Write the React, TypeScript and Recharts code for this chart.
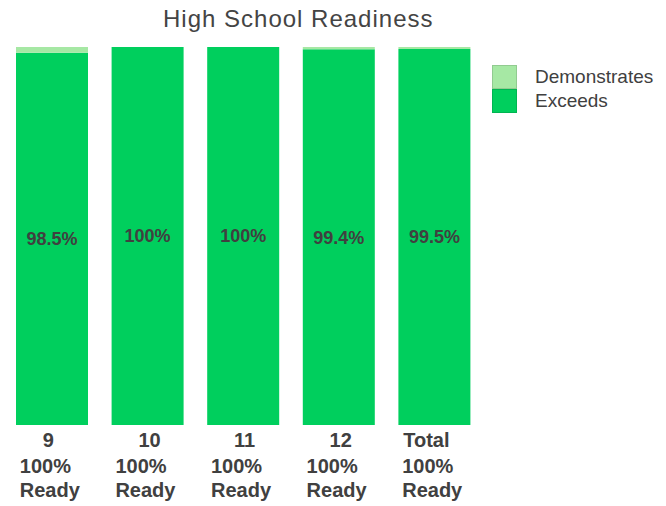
import React from 'react'
import { BarChart, Bar, XAxis, YAxis, LabelList } from 'recharts'

const grades = ['9', '10', '11', '12', 'Total']
const exceeds = [98.5, 100, 100, 99.4, 99.5]
const demonstrates = [1.5, 0, 0, 0.6, 0.5]
const readyPct = [100, 100, 100, 100, 100]
const legendItems = ['Demonstrates', 'Exceeds']

const EXCEEDS_COLOR = '#00CF5D'
const DEMO_COLOR = '#A6E8A4'
const TEXT_COLOR = '#404040'
const FONT = 'Liberation Sans, Arial, sans-serif'

const data = grades.map((g, i) => ({
    grade: g,
    exceeds: exceeds[i],
    demonstrates: demonstrates[i],
    ready: readyPct[i],
}))

const GradeTick = ({ x, y, payload }: any) => {
    const i = payload.index
    const label = grades[i]
    const left = x - 32
    // grade numbers sit indented, like the original's leading spaces
    const indent = /^\d+$/.test(label) ? 23 : 1
    return (
        <g fontFamily={FONT} fontSize={20} fontWeight="bold" fill={TEXT_COLOR}>
            <text x={left + indent} y={y + 14} textAnchor="start">{label}</text>
            <text x={left} y={y + 40} textAnchor="start">{`${readyPct[i]}%`}</text>
            <text x={left} y={y + 64} textAnchor="start">Ready</text>
        </g>
    )
}

export default function App() {
    const colors = [DEMO_COLOR, EXCEEDS_COLOR]
    return (
        <div style={{ position: 'absolute', left: 0, top: 0, width: 666, height: 506, background: '#fff' }}>
            <div
                style={{
                    position: 'absolute',
                    left: 163,
                    top: 5,
                    fontFamily: FONT,
                    fontSize: 24,
                    letterSpacing: 1,
                    color: '#444',
                    whiteSpace: 'nowrap',
                }}
            >
                High School Readiness
            </div>
            {/* legend drawn outside the chart so it doesn't shrink the plot */}
            <div style={{ position: 'absolute', left: 492, top: 65, fontFamily: FONT }}>
                {legendItems.map((name, i) => (
                    <div key={name} style={{ display: 'flex', alignItems: 'center', height: 24 }}>
                        <div style={{ width: 25, height: 24, background: colors[i], boxShadow: 'inset 0 0 0 1px rgba(0,0,0,0.12)' }} />
                        <span style={{ marginLeft: 18, fontSize: 19, color: TEXT_COLOR }}>{name}</span>
                    </div>
                ))}
            </div>
            <BarChart
                width={666}
                height={506}
                data={data}
                margin={{ top: 47, right: 184, left: 4, bottom: 0 }}
                barSize={72}
            >
                <XAxis
                    dataKey="grade"
                    axisLine={false}
                    tickLine={false}
                    height={81}
                    interval={0}
                    tick={<GradeTick />}
                />
                <YAxis hide domain={[0, 100]} />
                <Bar dataKey="exceeds" stackId="a" fill={EXCEEDS_COLOR} isAnimationActive={false}>
                    <LabelList
                        dataKey="exceeds"
                        position="center"
                        formatter={(v: any) => `${v}%`}
                        style={{ fontFamily: FONT, fontSize: 18, fontWeight: 'bold', fill: TEXT_COLOR }}
                    />
                </Bar>
                <Bar dataKey="demonstrates" stackId="a" fill={DEMO_COLOR} isAnimationActive={false} />
            </BarChart>
        </div>
    )
}
